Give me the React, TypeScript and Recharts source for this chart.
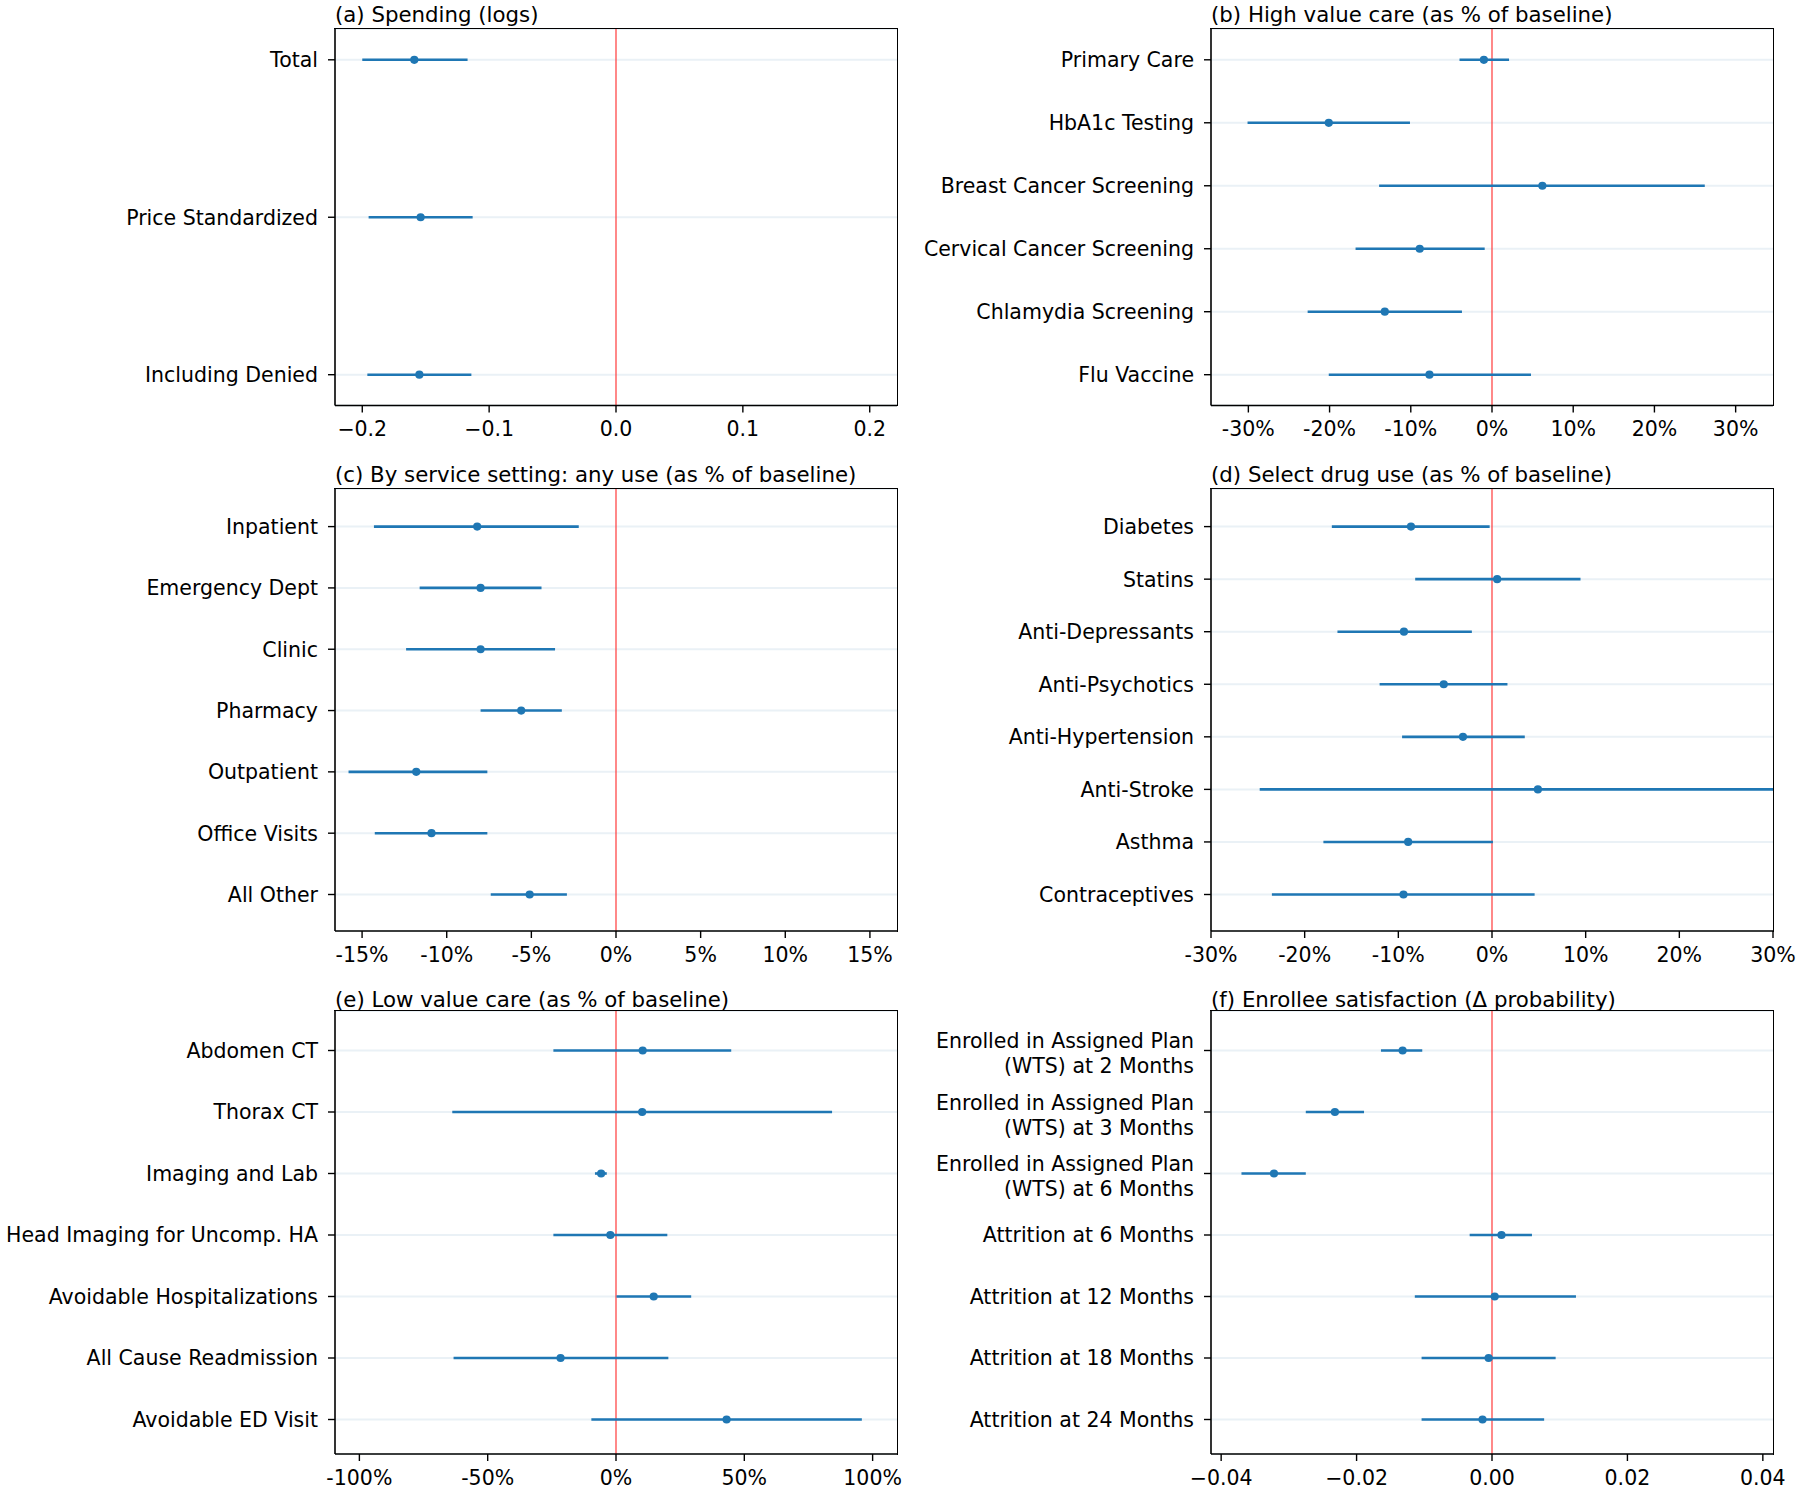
import React from 'react';
import {
  ScatterChart,
  Scatter,
  XAxis,
  YAxis,
  CartesianGrid,
  ReferenceLine,
  ErrorBar,
} from 'recharts';

const FONT = '"DejaVu Sans", Verdana, sans-serif';
const FONT_SIZE = 20.5;
const TITLE_SIZE = 21.3;
const BLUE = '#1f77b4';
const RED = '#ff3a3a';
const GRID = '#eaf1f6';

// (a) Spending (logs)
const spendLabels = ['Total', 'Price Standardized', 'Including Denied'];
const spendEst = [-0.159, -0.154, -0.155];
const spendLo = [-0.2, -0.195, -0.196];
const spendHi = [-0.117, -0.113, -0.114];
const spendTicks = [-0.2, -0.1, 0, 0.1, 0.2];

// (b) High value care (% of baseline)
const highLabels = [
  'Primary Care',
  'HbA1c Testing',
  'Breast Cancer Screening',
  'Cervical Cancer Screening',
  'Chlamydia Screening',
  'Flu Vaccine',
];
const highEst = [-1.0, -20.1, 6.2, -8.9, -13.2, -7.7];
const highLo = [-4.0, -30.1, -13.9, -16.8, -22.7, -20.1];
const highHi = [2.1, -10.1, 26.2, -0.9, -3.7, 4.8];
const highTicks = [-30, -20, -10, 0, 10, 20, 30];

// (c) By service setting: any use (% of baseline)
const settingLabels = [
  'Inpatient',
  'Emergency Dept',
  'Clinic',
  'Pharmacy',
  'Outpatient',
  'Office Visits',
  'All Other',
];
const settingEst = [-8.2, -8.0, -8.0, -5.6, -11.8, -10.9, -5.1];
const settingLo = [-14.3, -11.6, -12.4, -8.0, -15.8, -14.25, -7.4];
const settingHi = [-2.2, -4.4, -3.6, -3.2, -7.6, -7.6, -2.9];
const settingTicks = [-15, -10, -5, 0, 5, 10, 15];

// (d) Select drug use (% of baseline)
const drugLabels = [
  'Diabetes',
  'Statins',
  'Anti-Depressants',
  'Anti-Psychotics',
  'Anti-Hypertension',
  'Anti-Stroke',
  'Asthma',
  'Contraceptives',
];
const drugEst = [-8.65, 0.55, -9.4, -5.15, -3.1, 4.9, -8.95, -9.45];
const drugLo = [-17.1, -8.2, -16.5, -12.0, -9.6, -24.8, -18.0, -23.5];
const drugHi = [-0.25, 9.45, -2.15, 1.65, 3.5, 30.0, 0.1, 4.55];
const drugTicks = [-30, -20, -10, 0, 10, 20, 30];

// (e) Low value care (% of baseline)
const lowLabels = [
  'Abdomen CT',
  'Thorax CT',
  'Imaging and Lab',
  'Head Imaging for Uncomp. HA',
  'Avoidable Hospitalizations',
  'All Cause Readmission',
  'Avoidable ED Visit',
];
const lowEst = [10.4, 10.2, -5.8, -2.2, 14.7, -21.6, 43.1];
const lowLo = [-24.4, -63.8, -8.2, -24.4, 0.2, -63.3, -9.6];
const lowHi = [44.9, 84.2, -3.6, 20.0, 29.3, 20.4, 95.8];
const lowTicks = [-100, -50, 0, 50, 100];

// (f) Enrollee satisfaction (change in probability)
const satLabels = [
  'Enrolled in Assigned Plan\n(WTS) at 2 Months',
  'Enrolled in Assigned Plan\n(WTS) at 3 Months',
  'Enrolled in Assigned Plan\n(WTS) at 6 Months',
  'Attrition at 6 Months',
  'Attrition at 12 Months',
  'Attrition at 18 Months',
  'Attrition at 24 Months',
];
const satEst = [-0.0132, -0.0232, -0.0322, 0.0014, 0.0004, -0.0005, -0.0014];
const satLo = [-0.0164, -0.0275, -0.037, -0.0033, -0.0114, -0.0104, -0.0104];
const satHi = [-0.0103, -0.0189, -0.0275, 0.0059, 0.0124, 0.0094, 0.0077];
const satTicks = [-0.04, -0.02, 0, 0.02, 0.04];

const fmtDec = (digits: number) => (v: number) =>
  v === 0 ? (0).toFixed(digits) : (v < 0 ? '\u2212' : '') + Math.abs(v).toFixed(digits);
const fmtPct = (v: number) => `${v}%`;

// grid geometry (pixels)
const COL_LEFT = [335, 1211];
const BOX_W = 562;
const ROW_TOP = [28.5, 489, 1011];
const ROW_H = [376.5, 442, 443];
const ROW_PAD_TOP = [30.8, 37.6, 39.5];
const ROW_PAD_BOTTOM = [30.8, 36.5, 34.5];
const TITLE_SHIFT = [1, 0, 3.4];
const CHART_LEFT = [0, 905];
const MT = 6;
const MR = 26;
const XAXIS_H = 50;
const SPINE = 1.6;

const panels = [
  { title: '(a) Spending (logs)', labels: spendLabels, est: spendEst, lo: spendLo, hi: spendHi, ticks: spendTicks, lim: 0.2215, fmt: fmtDec(1), col: 0, row: 0 },
  { title: '(b) High value care (as % of baseline)', labels: highLabels, est: highEst, lo: highLo, hi: highHi, ticks: highTicks, lim: 34.6, fmt: fmtPct, col: 1, row: 0 },
  { title: '(c) By service setting: any use (as % of baseline)', labels: settingLabels, est: settingEst, lo: settingLo, hi: settingHi, ticks: settingTicks, lim: 16.6, fmt: fmtPct, col: 0, row: 1 },
  { title: '(d) Select drug use (as % of baseline)', labels: drugLabels, est: drugEst, lo: drugLo, hi: drugHi, ticks: drugTicks, lim: 30, fmt: fmtPct, col: 1, row: 1 },
  { title: '(e) Low value care (as % of baseline)', labels: lowLabels, est: lowEst, lo: lowLo, hi: lowHi, ticks: lowTicks, lim: 109.5, fmt: fmtPct, col: 0, row: 2 },
  { title: '(f) Enrollee satisfaction (\u0394 probability)', labels: satLabels, est: satEst, lo: satLo, hi: satHi, ticks: satTicks, lim: 0.0415, fmt: fmtDec(2), col: 1, row: 2 },
];

function CategoryTick(props: any) {
  const { x, y, payload, labels } = props;
  const lines = String(labels[payload.value] ?? '').split('\n');
  const offsets = lines.length === 1 ? [0] : [-9.5, 15.5];
  return (
    <text textAnchor="end" fontSize={FONT_SIZE} fontFamily={FONT} fill="#000">
      {lines.map((line, k) => (
        <tspan key={k} x={x} y={y + offsets[k]} dy="0.365em">
          {line}
        </tspan>
      ))}
    </text>
  );
}

function Dot(props: any) {
  const { cx, cy } = props;
  if (cx == null || cy == null) return null;
  return <circle cx={cx} cy={cy} r={4.1} fill={BLUE} />;
}

function Panel({ p }: { p: (typeof panels)[number] }) {
  const rows = p.labels.map((label, i) => ({
    pos: i,
    label,
    est: p.est[i],
    err: [p.est[i] - p.lo[i], p.hi[i] - p.est[i]],
  }));
  const idx = p.labels.map((_, i) => i);
  const boxLeft = COL_LEFT[p.col];
  const chartLeft = CHART_LEFT[p.col];
  const yAxisW = boxLeft - chartLeft;
  const boxH = ROW_H[p.row];
  const top = ROW_TOP[p.row];
  const width = yAxisW + BOX_W + MR;
  const height = MT + boxH + XAXIS_H;
  const axisLine = { stroke: '#000', strokeWidth: SPINE };

  return (
    <>
      <div
        style={{
          position: 'absolute',
          left: boxLeft,
          top: top - 7 - 0.846 * TITLE_SIZE + TITLE_SHIFT[p.row],
          fontFamily: FONT,
          fontSize: TITLE_SIZE,
          lineHeight: `${TITLE_SIZE}px`,
          whiteSpace: 'nowrap',
          color: '#000',
        }}
      >
        {p.title}
      </div>
      <div style={{ position: 'absolute', left: chartLeft, top: top - MT }}>
        <ScatterChart
          width={width}
          height={height}
          margin={{ top: MT, right: MR, bottom: 0, left: 0 }}
        >
          <CartesianGrid horizontal vertical={false} stroke={GRID} strokeWidth={2} />
          <XAxis
            type="number"
            dataKey="est"
            domain={[-p.lim, p.lim]}
            allowDataOverflow
            ticks={p.ticks}
            interval={0}
            tickFormatter={p.fmt}
            height={XAXIS_H}
            tickSize={7}
            tickMargin={9}
            axisLine={axisLine}
            tickLine={{ stroke: '#000', strokeWidth: 1.4 }}
            tick={{ fill: '#000', fontSize: FONT_SIZE, fontFamily: FONT }}
          />
          <YAxis
            type="number"
            dataKey="pos"
            domain={[0, p.labels.length - 1]}
            reversed
            ticks={idx}
            interval={0}
            width={yAxisW}
            padding={{ top: ROW_PAD_TOP[p.row], bottom: ROW_PAD_BOTTOM[p.row] }}
            tickSize={7}
            tickMargin={10}
            axisLine={axisLine}
            tickLine={{ stroke: '#000', strokeWidth: 1.4 }}
            tick={(tp: any) => <CategoryTick {...tp} labels={p.labels} />}
          />
          <ReferenceLine x={0} stroke={RED} strokeWidth={1.2} />
          <Scatter data={rows} shape={<Dot />} isAnimationActive={false}>
            <ErrorBar
              dataKey="err"
              direction="x"
              width={0}
              stroke={BLUE}
              strokeWidth={2.6}
              isAnimationActive={false}
            />
          </Scatter>
        </ScatterChart>
      </div>
      {/* top and right spines of the axes box */}
      <div
        style={{
          position: 'absolute',
          left: boxLeft - SPINE / 2,
          top: top - SPINE / 2,
          width: BOX_W + SPINE,
          height: boxH + SPINE,
          boxSizing: 'border-box',
          borderTop: `${SPINE}px solid #000`,
          borderRight: `${SPINE}px solid #000`,
          pointerEvents: 'none',
        }}
      />
    </>
  );
}

export default function App() {
  return (
    <div
      style={{
        position: 'absolute',
        left: 0,
        top: 0,
        width: 1800,
        height: 1490,
        background: '#fff',
        overflow: 'hidden',
      }}
    >
      {panels.map((p) => (
        <Panel key={p.title} p={p} />
      ))}
    </div>
  );
}
